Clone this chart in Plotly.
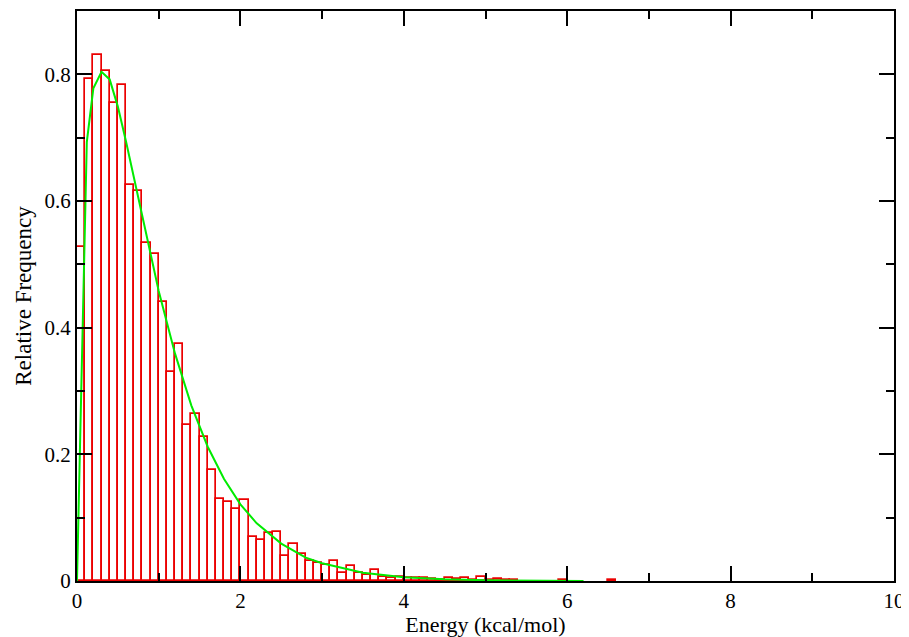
import plotly.graph_objects as go

# Histogram: relative frequency per 0.1 kcal/mol bin (bins start at 0.0)
bin_width = 0.1
freq = [0.528, 0.793, 0.830, 0.806, 0.754, 0.783, 0.626, 0.616, 0.533, 0.516,
        0.440, 0.330, 0.374, 0.247, 0.264, 0.227, 0.176, 0.129, 0.125, 0.113,
        0.128, 0.070, 0.065, 0.076, 0.078, 0.039, 0.059, 0.042, 0.031, 0.028,
        0.025, 0.032, 0.012, 0.023, 0.012, 0.009, 0.018, 0.007, 0.005, 0.006,
        0.004, 0.005, 0.004, 0.003, 0.002, 0.004, 0.003, 0.004, 0.002, 0.007,
        0.001, 0.003, 0.001, 0.001, None, None, None, None, None, 0.002,
        None, None, None, None, None, 0.002]

# Fitted curve
fit_x = [0.0, 0.12, 0.2, 0.3, 0.4, 0.5, 0.6, 0.7, 0.8, 0.9, 1.0, 1.2, 1.4, 1.6,
         1.8, 2.0, 2.2, 2.5, 2.8, 3.0, 3.5, 4.0, 4.5, 5.0, 5.5, 6.0, 6.2]
fit_y = [0.0, 0.693, 0.778, 0.804, 0.792, 0.749, 0.694, 0.634, 0.573, 0.514,
         0.458, 0.359, 0.277, 0.212, 0.161, 0.121, 0.091, 0.059, 0.037, 0.028,
         0.013, 0.006, 0.0027, 0.0012, 0.0005, 0.0002, 0.0001]

x_ticks = [0, 2, 4, 6, 8, 10]
y_ticks = [0, 0.2, 0.4, 0.6, 0.8]
y_tick_text = ["0", "0.2", "0.4", "0.6", "0.8"]

centers = [bin_width * (i + 0.5) for i in range(len(freq))]

fig = go.Figure()
fig.add_trace(go.Bar(
    x=centers, y=freq, width=bin_width,
    marker=dict(color="rgba(0,0,0,0)", line=dict(color="rgb(235,0,0)", width=1.7)),
    showlegend=False,
))
fig.add_trace(go.Scatter(
    x=fit_x, y=fit_y, mode="lines",
    line=dict(color="rgb(0,235,0)", width=2),
    showlegend=False,
))

font_family = "Liberation Serif"
axis_common = dict(
    showline=True, linecolor="black", linewidth=2, mirror="ticks",
    ticks="inside", ticklen=15, tickwidth=1.5, tickcolor="black",
    showgrid=False, zeroline=False, automargin=True,
    ticklabeloverflow="allow", layer="above traces",
    tickfont=dict(family=font_family, size=21, color="black"),
)

fig.update_layout(
    width=901, height=629,
    margin=dict(l=69, r=15, t=1, b=56),
    paper_bgcolor="white", plot_bgcolor="white",
    bargap=0,
    font=dict(family=font_family, color="black"),
    xaxis=dict(
        range=[0, 10], tickvals=x_ticks,
        minor=dict(ticks="inside", ticklen=8, tickwidth=1.5, tickcolor="black", dtick=1, tick0=0),
        title=dict(text="Energy (kcal/mol)", font=dict(family=font_family, size=22), standoff=4),
        **axis_common,
    ),
    yaxis=dict(
        range=[0, 0.9], tickvals=y_ticks, ticktext=y_tick_text,
        minor=dict(ticks="inside", ticklen=8, tickwidth=1.5, tickcolor="black", dtick=0.1, tick0=0),
        title=dict(text="Relative Frequency", font=dict(family=font_family, size=23), standoff=6),
        **axis_common,
    ),
)

fig.write_html("out.html")
